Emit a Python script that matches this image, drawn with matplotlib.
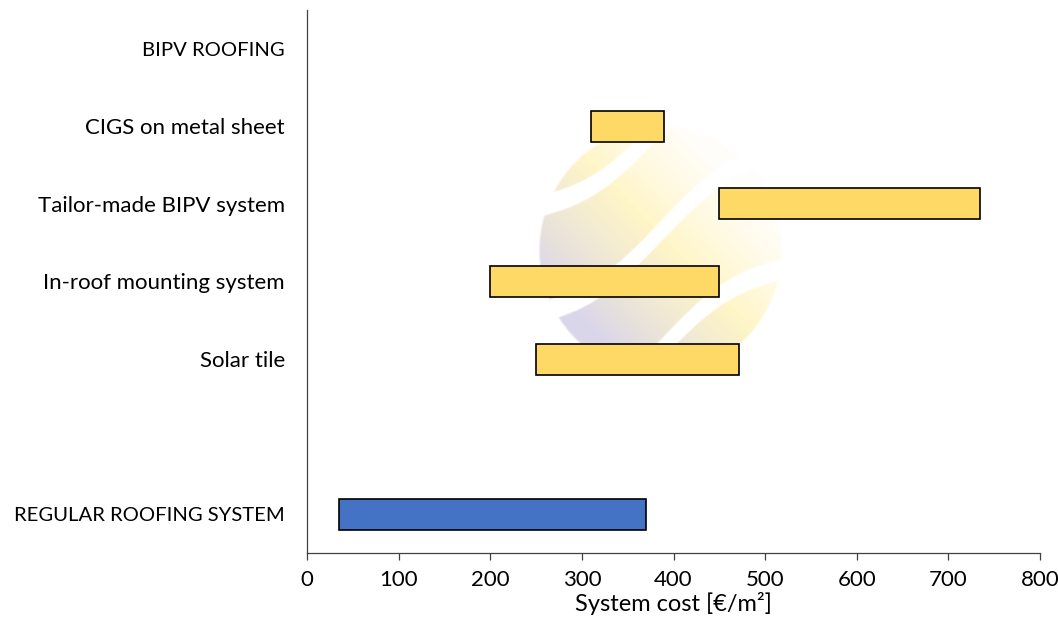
import numpy as np
import matplotlib.pyplot as plt

plt.rcParams['font.family'] = ['Lato', 'DejaVu Sans']

categories = ['BIPV ROOFING', 'CIGS on metal sheet', 'Tailor-made BIPV system',
              'In-roof mounting system', 'Solar tile', '', 'REGULAR ROOFING SYSTEM']
cost_low = [None, 310, 450, 200, 250, None, 35]
cost_high = [None, 390, 735, 450, 472, None, 370]
bar_colors = [None, '#FFD966', '#FFD966', '#FFD966', '#FFD966', None, '#4472C4']
xticks = [0, 100, 200, 300, 400, 500, 600, 700, 800]

fig = plt.figure(figsize=(10.58, 6.3), dpi=100)
ax = fig.add_axes([0.2902, 0.1222, 0.6928, 0.862])

# faint sphere logo in the background
n = 300
gx, gy = np.meshgrid(np.linspace(-1.05, 1.05, n), np.linspace(1.05, -1.05, n))
r = np.hypot(gx, gy)
mask = np.clip((1.0 - r) * 60, 0, 1)
for off in (1.0, 0.15, -0.8):
    yc = 0.65 * gx + off + 0.12 * np.sin(np.pi * gx)
    d = np.abs(gy - yc)
    mask *= np.clip((d - 0.075) * 60, 0, 1)
t = np.clip((gx + gy) / 2.4 + 0.5, 0, 1)  # 0 = lower-left, 1 = upper-right
lav = np.array([0.82, 0.80, 0.90])
yel = np.array([1.00, 0.94, 0.64])
wht = np.array([1.00, 0.99, 0.96])
t1 = np.clip(t / 0.55, 0, 1)[..., None]
t2 = np.clip((t - 0.55) / 0.45, 0, 1)[..., None]
rgb = lav * (1 - t1) + yel * t1
rgb = rgb * (1 - t2) + wht * t2
alpha = mask * (0.8 - 0.35 * t)
img = np.dstack([rgb, alpha])
ax.imshow(img, extent=(246, 526, 4.3, 0.92), origin='upper', aspect='auto',
          zorder=0, interpolation='bilinear')

for i, (lo, hi, c) in enumerate(zip(cost_low, cost_high, bar_colors)):
    if lo is None:
        continue
    ax.barh(i, hi - lo, left=lo, height=0.4, color=c, edgecolor='black',
            linewidth=1.2, zorder=2)

ax.set_xlim(0, 800)
ax.set_ylim(6.5, -0.5)
ax.set_yticks(range(len(categories)))
ax.set_yticklabels(categories)
ax.set_xticks(xticks)
ax.set_xticklabels([str(v) for v in xticks])
ax.tick_params(axis='y', length=0, pad=16, labelsize=16)
ax.tick_params(axis='x', length=5, width=0.9, color='#404040', pad=7, labelsize=16)
# upper-case headings are set a bit smaller so they keep their width
for lbl in ax.get_yticklabels():
    if lbl.get_text().isupper():
        lbl.set_fontsize(14.6)
ax.set_xlabel('System cost [€/m²]', fontsize=17, labelpad=2)

for side in ('top', 'right'):
    ax.spines[side].set_visible(False)
for side in ('left', 'bottom'):
    ax.spines[side].set_color('#404040')
    ax.spines[side].set_linewidth(0.9)

fig.savefig('out.png', dpi=100)
